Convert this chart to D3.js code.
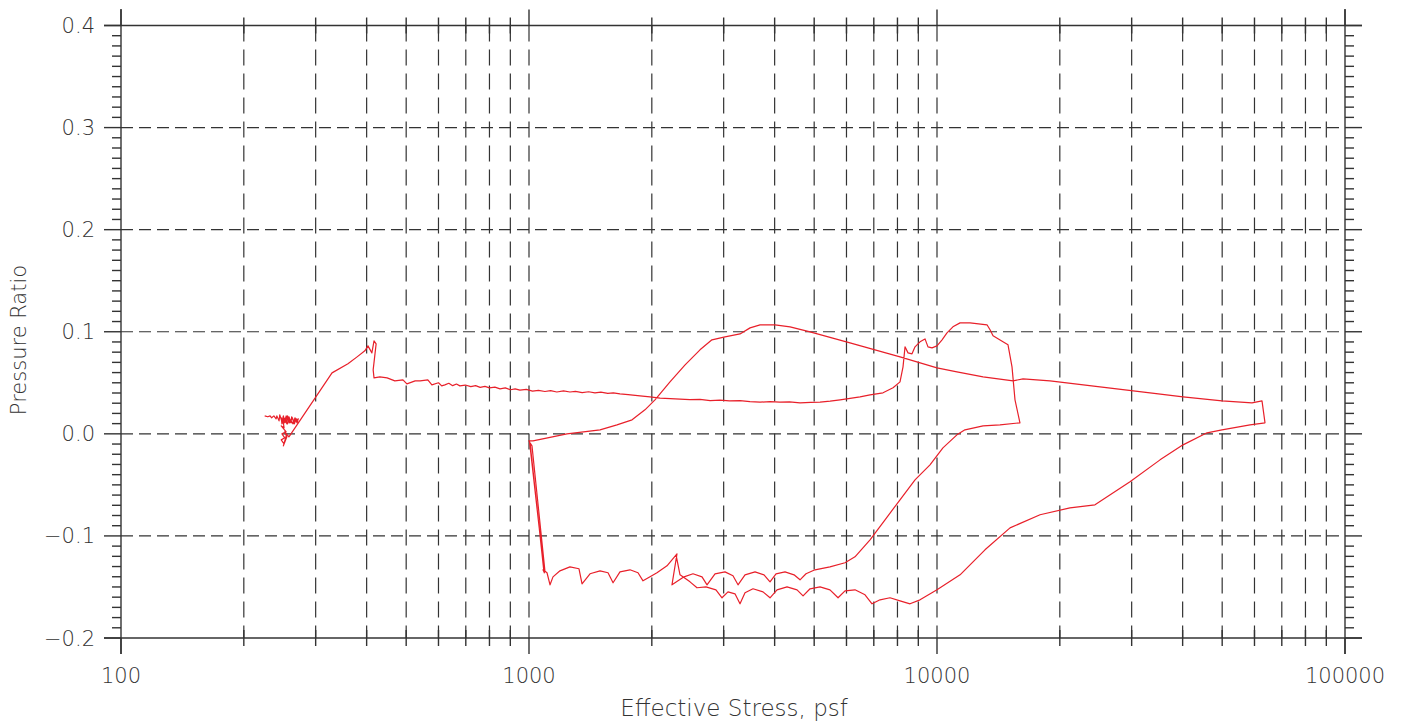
<!DOCTYPE html>
<html>
<head>
<meta charset="utf-8">
<script src="https://cdn.jsdelivr.net/npm/d3@7"></script>
<style>
  body { margin: 0; background: #fff; }
  text { font-family: "DejaVu Sans", sans-serif; font-weight: 200; fill: #333; }
</style>
</head>
<body>
<div id="chart"></div>
<script>
// tick values
var xDecades = [100, 1000, 10000, 100000];
var xTickLabels = ["100", "1000", "10000", "100000"];
var yMajor = [-0.2, -0.1, 0.0, 0.1, 0.2, 0.3, 0.4];
var yTickLabels = ["\u22120.2", "\u22120.1", "0.0", "0.1", "0.2", "0.3", "0.4"];

// path pieces, [effective stress psf, pressure ratio], in drawing order
var startNoise = [[225,0.0176],[229,0.0167],[232,0.0176],[234,0.0157],[237,0.0176],[240,0.0147],[241,0.0176],
  [244,0.0127],[245,0.0186],[248,0.0118],[250,0.0176],[252,0.0108],[254,0.0176],[257,0.0118],[258,0.0167],
  [261,0.0108],[262,0.0167],[265,0.0118],[267,0.0157],[270,0.0108],[272,0.0147],[268,0.0127],[264,0.0098],
  [260,0.0137],[255,0.0098],[251,0.0147],[248,0.0098],[247,0.0157],
  [249,0.0118],[250,0.0167],[253,0.0118],[256,0.0176],[259,0.0108],[263,0.0157],[266,0.0098],[269,0.0147],
  [271,0.0118],[267,0.0137],[263,0.0108],[259,0.0147],[256,0.0098],[253,0.0157],[250,0.0108],
  [251,0.0059],[247,0.0078],[254,0.0020],[248,0.0],[252,-0.0039],[247,-0.0059],[251,-0.0098],[254,-0.0020],
  [250,-0.0118],[255,-0.0029],[252,0.0020],[258,-0.0029]];

var firstLoad = [[329,0.0597],[360,0.0686],[379,0.0754],[396,0.0813],[403,0.0862],[412,0.0793],[417,0.0911],
  [422,0.0881],[415,0.0627],[417,0.0548],[431,0.0558],[449,0.0548],[469,0.0519],[491,0.0529],[502,0.0490],
  [526,0.0519],[541,0.0519],[565,0.0529],[578,0.0480],[600,0.0500],[611,0.0470],[622,0.0480],[636,0.0495],
  [650,0.0472],[664,0.0488],[677,0.0470],[698,0.0478],[720,0.0462],[740,0.0472],[759,0.0455],[780,0.0465],
  [800,0.0450],[825,0.0458],[849,0.0441],[875,0.0450],[900,0.0432],[925,0.0440],[950,0.0428],[985,0.0436],
  [1020,0.0418],[1055,0.0426],[1094,0.0415],[1130,0.0424],[1170,0.0410],[1215,0.0420],[1260,0.0410],
  [1300,0.0416],[1350,0.0404],[1400,0.0412],[1451,0.0402],[1500,0.0408],[1560,0.0396],[1610,0.0402],
  [1671,0.0392],[1750,0.0385],[1871,0.0372],[1980,0.0362],[2095,0.0350],[2220,0.0345],[2345,0.0340],
  [2480,0.0335],[2625,0.0338],[2780,0.0326],[2939,0.0330],[3100,0.0322],[3290,0.0326],[3480,0.0316],
  [3684,0.0310],[3900,0.0316],[4123,0.0310],[4350,0.0314],[4616,0.0304],[4900,0.0308],[5168,0.0311],
  [5470,0.0320],[5786,0.0333],[6477,0.0362],[6853,0.0382],[7374,0.0402],[7803,0.0451],[8116,0.0509],
  [8255,0.0656]];

var peakAndDrop = [[8349,0.0852],[8491,0.0793],[8685,0.0784],[8834,0.0852],[9086,0.0901],[9346,0.0930],
  [9504,0.0852],[9721,0.0842],[10000,0.0862],[10290,0.0921],[10580,0.0989],[10940,0.1048],[11390,0.1087],
  [12050,0.1087],[13260,0.1068],[13490,0.1019],[13720,0.0960],[14510,0.0901],[14930,0.0872],[15270,0.0656],
  [15530,0.0333],[15970,0.0108],[14270,0.0088],[12970,0.0078],[11710,0.0039],[11190,-0.0010],[10340,-0.0137],
  [9612,-0.0304],[8834,-0.0451],[8116,-0.0646],[7458,-0.0842],[6853,-0.1038],[6295,-0.1205],[5950,-0.1263],
  [5466,-0.1303],[5023,-0.1332]];

var upperScallops = [[4775,-0.1371],[4616,-0.1430],[4463,-0.1381],[4241,-0.1352],[4031,-0.1371],[3897,-0.1450],
  [3767,-0.1381],[3581,-0.1352],[3384,-0.1381],[3253,-0.1479],[3162,-0.1391],[3023,-0.1352],[2857,-0.1371],
  [2731,-0.1479],[2655,-0.1401],[2523,-0.1371],[2399,-0.1401],[2241,-0.1479],[2305,-0.1175],[2179,-0.1293],
  [2059,-0.1361],[1980,-0.1401],[1903,-0.1440],[1850,-0.1361],[1768,-0.1332],[1671,-0.1352],[1607,-0.1459],
  [1562,-0.1361],[1493,-0.1342],[1411,-0.1371],[1349,-0.1469],[1326,-0.1322],[1260,-0.1303],[1191,-0.1342],
  [1145,-0.1401],[1126,-0.1479],[1107,-0.1361],[1082,-0.1332],
  [1088,-0.1352],[1006,-0.0088],[1017,-0.0118],[1094,-0.1342],[1090,-0.1362],[1003,-0.0078],[1000,-0.0069]];

var reload = [[1023,-0.0069],[1239,0.0],[1493,0.0039],[1643,0.0088],[1789,0.0137],[1924,0.0235],[2036,0.0333],
  [2216,0.0509],[2413,0.0676],[2625,0.0823],[2808,0.0921],[3023,0.0950],[3290,0.0979],[3482,0.1038],
  [3684,0.1068],[4009,0.1068],[4363,0.1048],[4885,0.0999],[6120,0.0891],[8116,0.0754],[10000,0.0646],
  [11190,0.0607],[12970,0.0558],[15360,0.0519],[16250,0.0539],[18920,0.0519],[25090,0.0460],[33270,0.0402],
  [40090,0.0362],[49950,0.0323],[59160,0.0304],[62600,0.0323],[63670,0.0108]];

var unload = [[58510,0.0088],[49950,0.0039],[45900,0.0010],[40090,-0.0108],[35210,-0.0255],[29720,-0.0470],
  [24390,-0.0695],[21180,-0.0725],[17890,-0.0793],[15100,-0.0921],[13110,-0.1136],[11390,-0.1381],
  [10000,-0.1528],[9086,-0.1626],[8588,-0.1665],[8116,-0.1636],[7670,-0.1606],[7250,-0.1626],[6930,-0.1665],
  [6662,-0.1577],[6295,-0.1528],[5950,-0.1538],[5721,-0.1606],[5466,-0.1528],[5168,-0.1499],[4885,-0.1518],
  [4696,-0.1587],[4539,-0.1528],[4290,-0.1499],[4054,-0.1528],[3897,-0.1606],[3746,-0.1548],[3540,-0.1518],
  [3384,-0.1557],[3290,-0.1665],[3198,-0.1567],[3074,-0.1548],[2972,-0.1606],[2872,-0.1528],[2715,-0.1499],
  [2581,-0.1508],[2481,-0.1450],[2345,-0.1381],[2293,-0.1185]];

var allPoints = [].concat(startNoise, firstLoad, peakAndDrop, upperScallops, reload, unload);

var W = 1408, H = 724;
var pLeft = 121, pRight = 1345, pTop = 25.5, pBottom = 638;

var x = d3.scaleLog().domain([100, 100000]).range([pLeft, pRight]);
var y = d3.scaleLinear().domain([-0.2, 0.4]).range([pBottom, pTop]);

var svg = d3.select("#chart").append("svg")
  .attr("width", W)
  .attr("height", H);

// minor x values 2..9 per decade
var xMinor = [];
xDecades.slice(0, 3).forEach(function(d) {
  for (var k = 2; k <= 9; k++) xMinor.push(d * k);
});
var yMinor = d3.range(-20, 41).map(function(i) { return i / 100; })
  .filter(function(v) { return Math.abs(Math.round(v * 10) - v * 10) > 1e-6; });

// dashed grid
var grid = svg.append("g").attr("stroke", "#333").attr("stroke-width", 1.2).attr("fill", "none");
grid.selectAll(".vg").data(xMinor.concat([1000, 10000])).enter().append("line")
  .attr("x1", function(d) { return x(d); }).attr("x2", function(d) { return x(d); })
  .attr("y1", pTop).attr("y2", pBottom)
  .attr("stroke-dasharray", "16,8");
grid.selectAll(".hg").data(yMajor.slice(1, 6)).enter().append("line")
  .attr("x1", pLeft).attr("x2", pRight)
  .attr("y1", function(d) { return y(d); }).attr("y2", function(d) { return y(d); })
  .attr("stroke-dasharray", "12,6");

// frame and ticks
var ax = svg.append("g").attr("stroke", "#333").attr("stroke-width", 1.4);
ax.append("line").attr("x1", pLeft).attr("x2", pLeft).attr("y1", 9).attr("y2", 654);
ax.append("line").attr("x1", pRight).attr("x2", pRight).attr("y1", 9).attr("y2", 654);
ax.append("line").attr("x1", pLeft - 17).attr("x2", pRight + 17).attr("y1", pTop).attr("y2", pTop);
ax.append("line").attr("x1", pLeft - 17).attr("x2", pRight + 17).attr("y1", pBottom).attr("y2", pBottom);

xDecades.forEach(function(d) {
  ax.append("line").attr("x1", x(d)).attr("x2", x(d)).attr("y1", pTop - 16).attr("y2", pTop);
  ax.append("line").attr("x1", x(d)).attr("x2", x(d)).attr("y1", pBottom).attr("y2", pBottom + 16);
});
xMinor.forEach(function(d) {
  ax.append("line").attr("x1", x(d)).attr("x2", x(d)).attr("y1", pTop - 8).attr("y2", pTop + 8);
  ax.append("line").attr("x1", x(d)).attr("x2", x(d)).attr("y1", pBottom - 8).attr("y2", pBottom + 8);
});
yMajor.forEach(function(d) {
  ax.append("line").attr("x1", pLeft - 17).attr("x2", pLeft).attr("y1", y(d)).attr("y2", y(d));
  ax.append("line").attr("x1", pRight).attr("x2", pRight + 17).attr("y1", y(d)).attr("y2", y(d));
});
yMinor.forEach(function(d) {
  ax.append("line").attr("x1", pLeft - 9).attr("x2", pLeft).attr("y1", y(d)).attr("y2", y(d));
  ax.append("line").attr("x1", pRight).attr("x2", pRight + 9).attr("y1", y(d)).attr("y2", y(d));
});

// tick labels
svg.selectAll(".xl").data(xDecades).enter().append("text")
  .attr("x", function(d) { return x(d); })
  .attr("y", 683)
  .attr("text-anchor", "middle")
  .style("font-size", "21px")
  .text(function(d, i) { return xTickLabels[i]; });

svg.selectAll(".yl").data(yMajor).enter().append("text")
  .attr("x", 95)
  .attr("y", function(d) { return y(d) + 7.5; })
  .attr("text-anchor", "end")
  .style("font-size", "21px")
  .text(function(d, i) { return yTickLabels[i]; });

// axis titles
svg.append("text")
  .attr("x", 734).attr("y", 716)
  .attr("text-anchor", "middle")
  .style("font-size", "23px")
  .text("Effective Stress, psf");

svg.append("text")
  .attr("transform", "translate(26," + 340 + ")rotate(-90)")
  .attr("text-anchor", "middle")
  .style("font-size", "21px")
  .text("Pressure Ratio");

// the data line
var line = d3.line()
  .x(function(d) { return x(d[0]); })
  .y(function(d) { return y(d[1]); });

svg.append("path")
  .datum(allPoints)
  .attr("fill", "none")
  .attr("stroke", "#e8202a")
  .attr("stroke-width", 1.2)
  .attr("stroke-linejoin", "round")
  .attr("d", line);
</script>
</body>
</html>
